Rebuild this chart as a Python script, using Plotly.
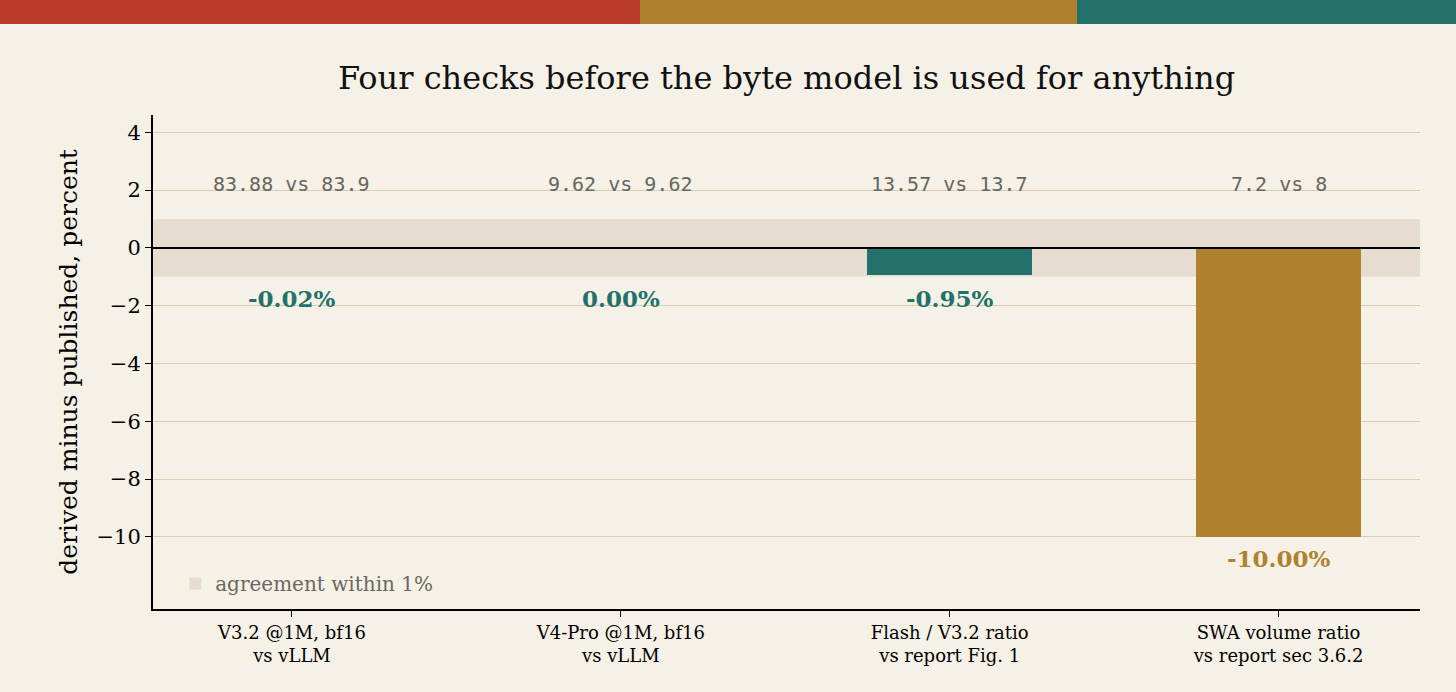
import plotly.graph_objects as go

# --- data ---
categories = ["V3.2 @1M, bf16<br>vs vLLM", "V4-Pro @1M, bf16<br>vs vLLM",
              "Flash / V3.2 ratio<br>vs report Fig. 1", "SWA volume ratio<br>vs report sec 3.6.2"]
derived = ["83.88", "9.62", "13.57", "7.2"]
published = ["83.9", "9.62", "13.7", "8"]
diff_pct = [-0.02, 0.00, -0.95, -10.00]
tolerance = 1.0
y_ticks = [4, 2, 0, -2, -4, -6, -8, -10]

BG = "#f5f1e7"
TEAL = "#22716b"
OCHRE = "#b0812e"
RED = "#b83a28"
GRID = "#d9cbb4"
BAND = "#e6ddd0"
SERIF = "DejaVu Serif"
MONO = "DejaVu Sans Mono"

W, H = 1456, 692
ML, MR, MT, MB = 153, 36, 115, 83
pw, ph = W - ML - MR, H - MT - MB

bar_colors = [TEAL if abs(v) <= tolerance else OCHRE for v in diff_pct]
x_idx = list(range(len(categories)))

fig = go.Figure()
fig.add_trace(go.Bar(x=x_idx, y=diff_pct, width=0.5, marker=dict(color=bar_colors, line=dict(width=0)),
                     showlegend=False, hoverinfo="y"))

# agreement band
fig.add_shape(type="rect", xref="paper", x0=0, x1=1, y0=-tolerance, y1=tolerance,
              fillcolor=BAND, line=dict(width=0), layer="below",
              showlegend=True, name="agreement within 1%")
# zero line
fig.add_shape(type="line", xref="paper", x0=0, x1=1, y0=0, y1=0, line=dict(color="black", width=2), layer="above")

# comparison + percent labels
for i, (d, p, v, c) in enumerate(zip(derived, published, diff_pct, bar_colors)):
    fig.add_annotation(x=i, y=2.2, text=f"{d} vs {p}", showarrow=False,
                       font=dict(family=MONO, size=20, color="#666660"))
    fig.add_annotation(x=i, y=min(v, -tolerance) - 0.2, text=f"<b>{v:.2f}%</b>", showarrow=False,
                       yanchor="top", font=dict(family=SERIF, size=23, color=c))

# coloured strip across the top of the page
strip = [(0, 640, RED), (640, 1077, OCHRE), (1077, W, TEAL)]
for a, b, col in strip:
    fig.add_shape(type="rect", xref="paper", yref="paper",
                  x0=(a - ML) / pw, x1=(b - ML) / pw,
                  y0=1 + (MT - 24) / ph, y1=1 + MT / ph,
                  fillcolor=col, line=dict(width=0))

fig.update_layout(
    width=W, height=H,
    margin=dict(l=ML, r=MR, t=MT, b=MB),
    paper_bgcolor=BG, plot_bgcolor=BG,
    font=dict(family=SERIF, color="black", size=19),
    title=dict(text="Four checks before the byte model is used for anything",
               x=(ML + pw / 2) / W, xanchor="center", y=1 - 78 / H, yanchor="middle",
               font=dict(family=SERIF, size=32, color="#111")),
    legend=dict(x=0.0175, y=0.012, xanchor="left", yanchor="bottom", bgcolor="rgba(0,0,0,0)",
                font=dict(family=SERIF, size=20, color="#6b6760")),
    bargap=0,
)
fig.update_xaxes(tickvals=x_idx, ticktext=categories, range=[-0.4225, 3.43],
                 showgrid=False, zeroline=False, showline=True, linecolor="black", linewidth=2,
                 ticks="outside", ticklen=6, tickcolor="black", tickfont=dict(size=18))
fig.update_yaxes(range=[-12.5, 4.6], tickvals=y_ticks, showgrid=True, gridcolor=GRID, gridwidth=1.2,
                 zeroline=False, showline=True, linecolor="black", linewidth=2,
                 ticks="outside", ticklen=6, tickcolor="black", tickfont=dict(size=21),
                 title=dict(text="derived minus published, percent", font=dict(size=25), standoff=12))

fig.write_html("out.html", config={"displayModeBar": False},
               post_script="document.body.style.margin='0';")
